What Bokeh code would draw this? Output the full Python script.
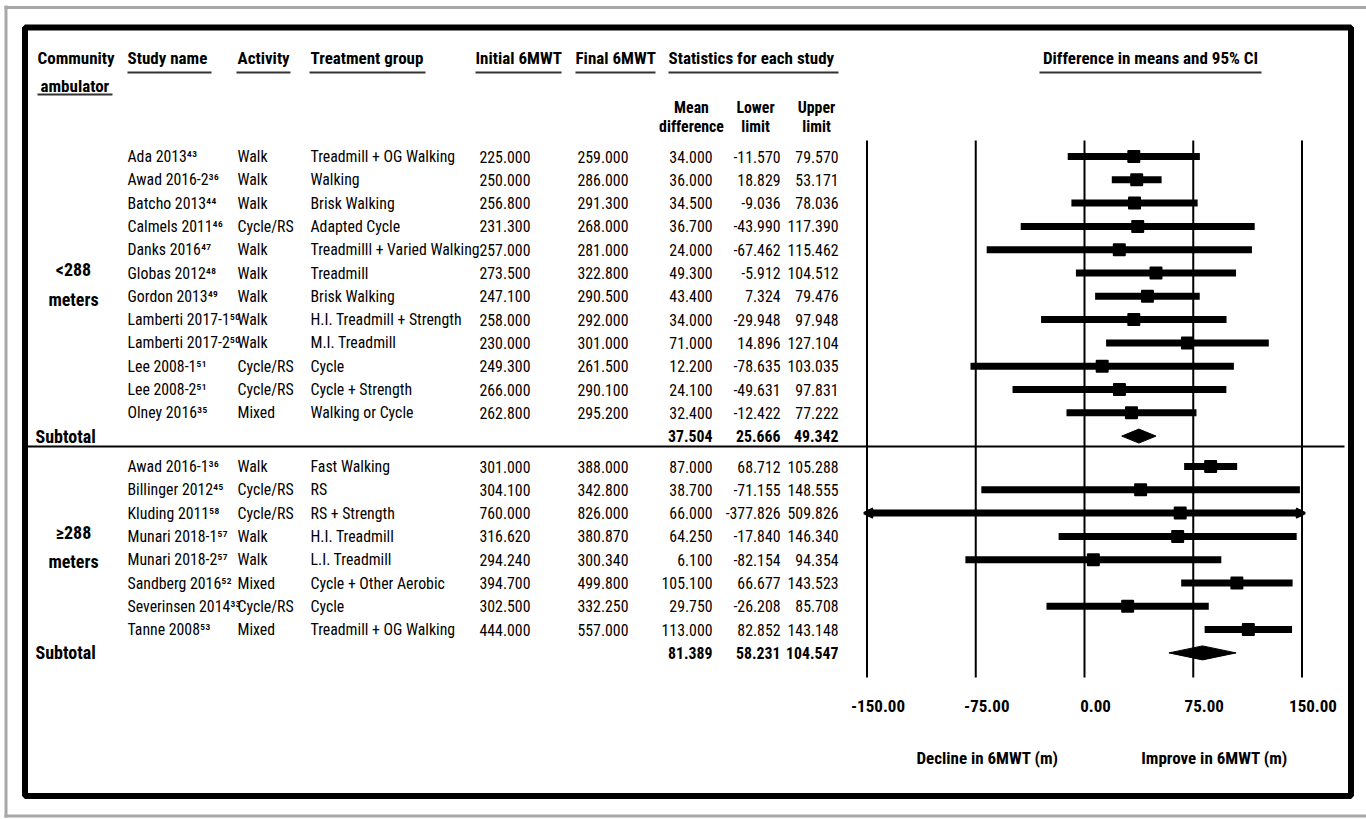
from bokeh.plotting import figure
from bokeh.models import ColumnDataSource, Range1d, Arrow, OpenHead
from bokeh.core.properties import value
from bokeh.embed import file_html
from bokeh.resources import INLINE

# ---------------- data ----------------
studies1 = ["Ada 2013", "Awad 2016-2", "Batcho 2013", "Calmels 2011", "Danks 2016", "Globas 2012",
            "Gordon 2013", "Lamberti 2017-1", "Lamberti 2017-2", "Lee 2008-1", "Lee 2008-2", "Olney 2016"]
refs1 = ["43", "36", "44", "46", "47", "48", "49", "50", "50", "51", "51", "35"]
activity1 = ["Walk", "Walk", "Walk", "Cycle/RS", "Walk", "Walk", "Walk", "Walk", "Walk",
             "Cycle/RS", "Cycle/RS", "Mixed"]
treat1 = ["Treadmill + OG Walking", "Walking", "Brisk Walking", "Adapted Cycle",
          "Treadmilll + Varied Walking", "Treadmill", "Brisk Walking", "H.I. Treadmill + Strength",
          "M.I. Treadmill", "Cycle", "Cycle + Strength", "Walking or Cycle"]
init1 = [225.0, 250.0, 256.8, 231.3, 257.0, 273.5, 247.1, 258.0, 230.0, 249.3, 266.0, 262.8]
final1 = [259.0, 286.0, 291.3, 268.0, 281.0, 322.8, 290.5, 292.0, 301.0, 261.5, 290.1, 295.2]
mean1 = [34.0, 36.0, 34.5, 36.7, 24.0, 49.3, 43.4, 34.0, 71.0, 12.2, 24.1, 32.4]
lower1 = [-11.570, 18.829, -9.036, -43.990, -67.462, -5.912, 7.324, -29.948, 14.896, -78.635, -49.631, -12.422]
upper1 = [79.570, 53.171, 78.036, 117.390, 115.462, 104.512, 79.476, 97.948, 127.104, 103.035, 97.831, 77.222]
subtotal1 = [37.504, 25.666, 49.342]

studies2 = ["Awad 2016-1", "Billinger 2012", "Kluding 2011", "Munari 2018-1", "Munari 2018-2",
            "Sandberg 2016", "Severinsen 2014", "Tanne 2008"]
refs2 = ["36", "45", "58", "57", "57", "52", "33", "53"]
activity2 = ["Walk", "Cycle/RS", "Cycle/RS", "Walk", "Walk", "Mixed", "Cycle/RS", "Mixed"]
treat2 = ["Fast Walking", "RS", "RS + Strength", "H.I. Treadmill", "L.I. Treadmill",
          "Cycle +  Other Aerobic", "Cycle", "Treadmill + OG Walking"]
init2 = [301.000, 304.100, 760.000, 316.620, 294.240, 394.700, 302.500, 444.000]
final2 = [388.000, 342.800, 826.000, 380.870, 300.340, 499.800, 332.250, 557.000]
mean2 = [87.000, 38.700, 66.000, 64.250, 6.100, 105.100, 29.750, 113.000]
lower2 = [68.712, -71.155, -377.826, -17.840, -82.154, 66.677, -26.208, 82.852]
upper2 = [105.288, 148.555, 509.826, 146.340, 94.354, 143.523, 85.708, 143.148]
subtotal2 = [81.389, 58.231, 104.547]

group_labels = [["<288", "meters"], ["\u2265288", "meters"]]
tick_values = [-150, -75, 0, 75, 150]
tick_labels = ["-150.00", "-75.00", "0.00", "75.00", "150.00"]
axis_left_label = "Decline in 6MWT (m)"
axis_right_label = "Improve in 6MWT (m)"

# ---------------- layout ----------------
W, H = 1366, 819
FONT = "Roboto Condensed"
BODY = "15.8px"
HEAD = "17px"
BIG = "18px"
ZERO_PX = 1084.0
PX_PER_UNIT = 435.0 / 300.0
CLIP = 150.0

p = figure(width=W, height=H, output_backend="svg", toolbar_location=None,
           x_range=Range1d(0, W), y_range=Range1d(H, 0),
           x_axis_type=None, y_axis_type=None, min_border=0)
p.grid.visible = False
p.outline_line_color = None
p.background_fill_color = "white"
p.border_fill_color = "white"
p.extra_x_ranges = {"forest": Range1d((0 - ZERO_PX) / PX_PER_UNIT, (W - ZERO_PX) / PX_PER_UNIT)}

SUP = str.maketrans("0123456789", "\u2070\u00b9\u00b2\u00b3\u2074\u2075\u2076\u2077\u2078\u2079")


def txt(xs, ys, texts, size=BODY, bold=False, align="left", x_range_name="default", x_offset=0):
    src = ColumnDataSource(dict(x=list(xs), y=list(ys), t=list(texts)))
    p.text("x", "y", "t", source=src, text_font=value(FONT), text_font_size=size,
           text_font_style="bold" if bold else "normal", text_align=align,
           text_baseline="middle", text_color="black", x_range_name=x_range_name,
           x_offset=x_offset)


# outer gray frame and black border
p.segment([4, 5.5, 4], [7, 5, 815.5], [W, 5.5, W], [7, 817, 815.5],
          line_color="#a8a8a8", line_width=3)
p.rect(x=[(24.5 + 1350.5) / 2], y=[(27 + 795.5) / 2], width=[1350.5 - 24.5], height=[795.5 - 27],
       fill_color=None, line_color="black", line_width=6)

# headers
txt([37], [57], ["Community"], HEAD, True)
txt([40], [85], ["ambulator"], HEAD, True)
txt([127, 237, 310, 475, 575, 668], [57] * 6,
    ["Study name", "Activity", "Treatment group", "Initial 6MWT", "Final 6MWT", "Statistics for each study"],
    HEAD, True)
txt([1150], [57], ["Difference in means and 95% CI"], HEAD, True, align="center")
p.segment([37, 127, 236, 309, 475, 575, 668, 1039], [94, 72, 72, 72, 72, 72, 72, 72],
          [112, 211, 290, 425, 561, 655, 838, 1261], [94, 72, 72, 72, 72, 72, 72, 72],
          line_color="#333333", line_width=2)
txt([691, 755, 816], [107, 107, 107], ["Mean", "Lower", "Upper"], BODY, True, align="center")
txt([691, 755, 816], [126, 126, 126], ["difference", "limit", "limit"], BODY, True, align="center")

# row positions
STEP = 23.3
y1 = [156 + STEP * i for i in range(len(studies1))]
ysub1 = 156 + STEP * len(studies1)
y2 = [466 + STEP * i for i in range(len(studies2))]
ysub2 = 466 + STEP * len(studies2)

fmt = lambda v: f"{v:.3f}"

for ys, st, rf, ac, tr, ini, fin, mn, lo, up, sub, ysub in [
        (y1, studies1, refs1, activity1, treat1, init1, final1, mean1, lower1, upper1, subtotal1, ysub1),
        (y2, studies2, refs2, activity2, treat2, init2, final2, mean2, lower2, upper2, subtotal2, ysub2)]:
    n = len(st)
    txt([127] * n, ys, [s + r.translate(SUP) for s, r in zip(st, rf)])
    txt([237] * n, ys, ac)
    txt([310] * n, ys, tr)
    txt([479] * n, ys, [fmt(v) for v in ini])
    txt([577] * n, ys, [fmt(v) for v in fin])
    txt([712] * n, ys, [fmt(v) for v in mn], align="right")
    txt([780] * n, ys, [fmt(v) for v in lo], align="right")
    txt([838] * n, ys, [fmt(v) for v in up], align="right")
    txt([35], [ysub], ["Subtotal"], BIG, True)
    txt([712, 780, 838], [ysub] * 3, [fmt(v) for v in sub], BODY, True, align="right")

# group labels
txt([73, 73], [269, 299], group_labels[0], BIG, True, align="center")
txt([73, 73], [532, 561], group_labels[1], BIG, True, align="center")

# separator line
p.segment([22], [446], [1344], [446], line_color="black", line_width=2)

# forest plot reference lines
p.segment(x0=tick_values, y0=[140] * 5, x1=tick_values, y1=[677] * 5,
          x_range_name="forest", line_color="black", line_width=2)

# CI lines and markers
all_y = y1 + y2
all_mean = mean1 + mean2
all_lo = lower1 + lower2
all_up = upper1 + upper2
lo_c = [max(v, -CLIP) for v in all_lo]
up_c = [min(v, CLIP) for v in all_up]
p.segment(x0=lo_c, y0=all_y, x1=up_c, y1=all_y, x_range_name="forest",
          line_color="black", line_width=7)
p.scatter(x=all_mean, y=all_y, marker="square", size=11, x_range_name="forest",
          fill_color="black", line_color="black", line_join="round", line_width=2)

# arrows for clipped intervals
for yy, lo, up in zip(all_y, all_lo, all_up):
    if lo < -CLIP:
        p.add_layout(Arrow(end=OpenHead(size=9, line_width=2.5, line_color="black"),
                           x_start=-CLIP + 5, y_start=yy, x_end=-CLIP - 2, y_end=yy,
                           line_alpha=0, x_range_name="forest"))
    if up > CLIP:
        p.add_layout(Arrow(end=OpenHead(size=9, line_width=2.5, line_color="black"),
                           x_start=CLIP - 5, y_start=yy, x_end=CLIP + 2, y_end=yy,
                           line_alpha=0, x_range_name="forest"))

# subtotal diamonds
dxs, dys = [], []
for (m, lo, up), yy in [(subtotal1, ysub1), (subtotal2, ysub2)]:
    dxs.append([lo, m, up, m])
    dys.append([yy, yy - 7, yy, yy + 7])
p.patches(dxs, dys, x_range_name="forest", fill_color="black", line_color="black")

# axis labels
txt(tick_values, [705] * 5, tick_labels, "17px", True, align="center",
    x_range_name="forest", x_offset=11)
txt([987, 1214], [757, 757], [axis_left_label, axis_right_label], "17px", True, align="center")

open("out.html", "w").write(file_html(p, INLINE))
